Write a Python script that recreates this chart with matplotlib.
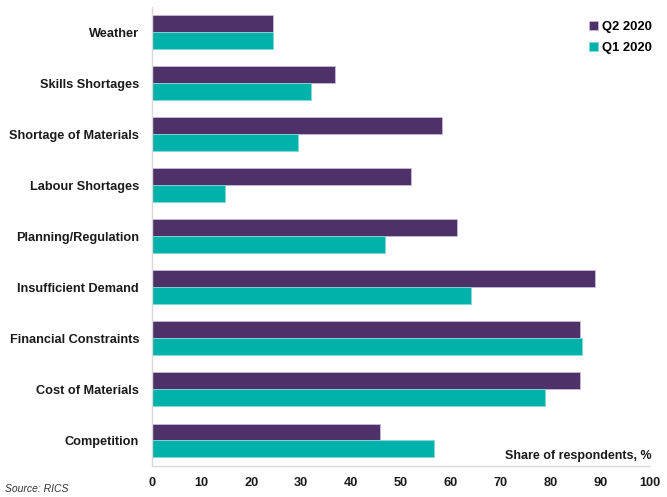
import matplotlib.pyplot as plt
import numpy as np

plt.rcParams['font.family'] = ['Liberation Sans', 'DejaVu Sans']

categories = ['Weather', 'Skills Shortages', 'Shortage of Materials', 'Labour Shortages',
              'Planning/Regulation', 'Insufficient Demand', 'Financial Constraints',
              'Cost of Materials', 'Competition']
q2_2020 = [24.3, 36.7, 58.2, 52.1, 61.3, 88.9, 85.9, 85.9, 45.8]
q1_2020 = [24.4, 31.9, 29.4, 14.7, 46.8, 64.1, 86.3, 79.0, 56.6]
xticks = [0, 10, 20, 30, 40, 50, 60, 70, 80, 90, 100]

purple = '#4e3169'
teal = '#00b2a9'

fig = plt.figure(figsize=(6.67, 4.97), dpi=100)
ax = fig.add_axes([0.2275, 0.0624, 0.747, 0.9236])

y = np.arange(len(categories))
h = 0.333
ax.barh(y - h / 2, q2_2020, height=h, color=purple, edgecolor='#c9bcd8', linewidth=0.6, label='Q2 2020')
ax.barh(y + h / 2, q1_2020, height=h, color=teal, edgecolor='#7fd8d3', linewidth=0.6, label='Q1 2020')

ax.set_xlim(0, 100)
ax.set_ylim(len(categories) - 0.5, -0.5)
ax.set_yticks(y)
ax.set_yticklabels(categories, fontsize=9.2, fontweight='bold', color='#1a1a1a')
ax.set_xticks(xticks)
ax.set_xticklabels([str(t) for t in xticks], fontsize=9.2, fontweight='bold', color='#1a1a1a')
ax.tick_params(axis='y', length=0, pad=9)
ax.tick_params(axis='x', length=0, pad=8)

for s in ['top', 'right']:
    ax.spines[s].set_visible(False)
for s in ['left', 'bottom']:
    ax.spines[s].set_color('#d9d9d9')
    ax.spines[s].set_linewidth(1.0)

ax.legend(loc='upper right', bbox_to_anchor=(1.019, 0.987), frameon=False,
          prop={'size': 9.4, 'weight': 'bold'}, handlelength=0.7, handleheight=0.7,
          handletextpad=0.3, labelspacing=0.7, borderaxespad=0.2)

ax.text(1.003, 0.022, 'Share of respondents, %', transform=ax.transAxes, ha='right', va='center',
        fontsize=9, fontweight='bold', color='#1a1a1a')
fig.text(0.008, 0.016, 'Source: RICS', fontsize=7.5, style='italic', color='#333333', ha='left', va='center')

fig.savefig('out.png', dpi=100)
